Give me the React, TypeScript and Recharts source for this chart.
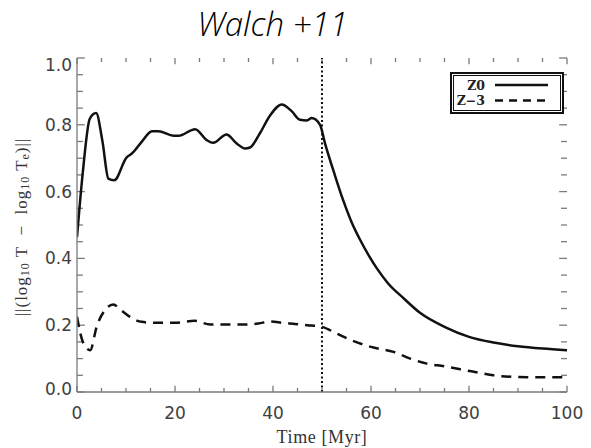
import React from 'react';
import { LineChart, Line, XAxis, YAxis, ReferenceLine } from 'recharts';

const z0Time = [0, 1.2, 2.6, 3.9, 5.2, 6.4, 7.6, 10.1, 11.2, 13.2, 15.3, 16.6, 19.7, 20.7, 24.1, 26.5, 27.8, 30.5, 32.6, 34.3, 35.3, 37.3, 39.4, 41.8, 43.8, 45.5, 46.9, 47.9, 49.6, 50.6, 52.5, 54.3, 56, 57.8, 59.5, 61.2, 63.5, 66.7, 70, 75, 80, 85, 90, 95, 100];
const z0Values = [0.464, 0.66, 0.818, 0.835, 0.75, 0.639, 0.634, 0.702, 0.714, 0.749, 0.781, 0.781, 0.767, 0.767, 0.787, 0.754, 0.746, 0.771, 0.744, 0.729, 0.732, 0.774, 0.828, 0.861, 0.841, 0.815, 0.813, 0.82, 0.80, 0.745, 0.655, 0.575, 0.51, 0.455, 0.41, 0.37, 0.325, 0.28, 0.237, 0.195, 0.165, 0.148, 0.137, 0.130, 0.125];

const z3Time = [0, 1.2, 2.7, 4, 5.7, 7.4, 9, 10.8, 13.2, 16, 20, 24, 27.2, 30, 34, 37, 39.4, 42, 44.2, 47, 50, 53, 56, 60, 64.6, 68, 71.4, 75, 78.2, 82, 85, 90, 95, 100];
const z3Values = [0.225, 0.15, 0.125, 0.195, 0.245, 0.262, 0.245, 0.225, 0.21, 0.207, 0.207, 0.213, 0.202, 0.202, 0.202, 0.205, 0.211, 0.207, 0.204, 0.2, 0.195, 0.175, 0.155, 0.135, 0.12, 0.1, 0.085, 0.077, 0.068, 0.058, 0.05, 0.045, 0.044, 0.044];

const seriesNames = ['Z0', 'Z\u22123'];
const seriesDash = ['', '8 6'];

const xTicks = [0, 5, 10, 15, 20, 25, 30, 35, 40, 45, 50, 55, 60, 65, 70, 75, 80, 85, 90, 95, 100];
const yTicks = [0, 0.05, 0.1, 0.15, 0.2, 0.25, 0.3, 0.35, 0.4, 0.45, 0.5, 0.55, 0.6, 0.65, 0.7, 0.75, 0.8, 0.85, 0.9, 0.95, 1.0];
const xLabelEvery = 20;
const yLabelEvery = 0.2;
const markerTime = 50;
const xMin = 0;
const xMax = 100;
const yMin = 0;
const yMax = 1;

const titleText = 'Walch +11';
const xAxisTitle = 'Time [Myr]';

const z0Data = z0Time.map((t, i) => ({ t, v: z0Values[i] }));
const z3Data = z3Time.map((t, i) => ({ t, v: z3Values[i] }));

const FRAME = '#7a7a7a';
const TICKTXT = '#404040';

// tick mark lengths expressed in data units (x: 4.9 px/unit, y: 334 px/unit)
const xTickLenMajor = 0.019;
const xTickLenMinor = 0.012;
const yTickLenMajor = 1.6;
const yTickLenMinor = 1.2;

const isMajor = (v: number, step: number) => Math.abs(v / step - Math.round(v / step)) < 1e-6;

const BottomTick = (props: any) => {
  const { x, y, payload } = props;
  if (!isMajor(payload.value, xLabelEvery)) return <g />;
  return (
    <text x={x} y={y + 21} textAnchor="middle" dominantBaseline="central" fontFamily="DejaVu Sans" fontSize={17} fill={TICKTXT}>
      {payload.value}
    </text>
  );
};

const LeftTick = (props: any) => {
  const { x, y, payload } = props;
  const v = payload.value as number;
  if (!isMajor(v, yLabelEvery)) return <g />;
  const shift = v >= 0.999 ? 7 : v <= 0.001 ? -3 : 0;
  return (
    <text x={x - 5} y={y + shift} textAnchor="end" dominantBaseline="central" fontFamily="DejaVu Sans" fontSize={17} fill={TICKTXT}>
      {v.toFixed(1)}
    </text>
  );
};

const YTitle = () => (
  <text
    x={21}
    y={227}
    transform="rotate(-90, 21, 227)"
    textAnchor="middle"
    dominantBaseline="central"
    fontFamily="Liberation Serif"
    fontSize={17}
    letterSpacing={1}
    fill="#333"
    style={{ whiteSpace: 'pre' }}
  >
    <tspan>{'||(log'}</tspan>
    <tspan fontSize={12} dy={4}>10</tspan>
    <tspan dy={-4}>{' T  \u2212  log'}</tspan>
    <tspan fontSize={12} dy={4}>10</tspan>
    <tspan dy={-4}>{' T'}</tspan>
    <tspan fontSize={12} dy={4}>e</tspan>
    <tspan dy={-4}>{')||'}</tspan>
  </text>
);

const XTitle = (props: any) => {
  const vb = props.viewBox || {};
  const cx = (vb.x ?? 77) + (vb.width ?? 490) / 2;
  return (
    <text x={cx} y={437} textAnchor="middle" dominantBaseline="central" fontFamily="Liberation Serif" fontSize={18} letterSpacing={0.6} fill="#333">
      {xAxisTitle}
    </text>
  );
};

const LegendBox = () => (
  <div
    style={{
      position: 'absolute',
      left: 450,
      top: 72,
      width: 114,
      height: 42,
      boxSizing: 'border-box',
      border: '2px solid #111',
      padding: 1,
      background: '#fff',
    }}
  >
    <div style={{ border: '1px solid #111', width: '100%', height: '100%', boxSizing: 'border-box' }}>
      <svg width={106} height={34} style={{ display: 'block' }}>
        {seriesNames.map((n, i) => (
          <g key={n}>
            <text x={31} y={9 + i * 15.5} textAnchor="end" dominantBaseline="central" fontFamily="DejaVu Serif" fontWeight="bold" fontSize={12.5} fill="#222">
              {n}
            </text>
            <line x1={41} x2={94} y1={9 + i * 15.5} y2={9 + i * 15.5} stroke="#111" strokeWidth={2.5} strokeDasharray={seriesDash[i] || undefined} />
          </g>
        ))}
      </svg>
    </div>
  </div>
);

export default function App() {
  const tickMarks: React.ReactNode[] = [];
  xTicks.forEach((t) => {
    const len = isMajor(t, xLabelEvery) ? xTickLenMajor : xTickLenMinor;
    tickMarks.push(
      <ReferenceLine key={'xb' + t} segment={[{ x: t, y: yMin }, { x: t, y: yMin + len }]} stroke={FRAME} strokeWidth={1.3} ifOverflow="visible" />,
      <ReferenceLine key={'xt' + t} segment={[{ x: t, y: yMax }, { x: t, y: yMax - len }]} stroke={FRAME} strokeWidth={1.3} ifOverflow="visible" />
    );
  });
  yTicks.forEach((v) => {
    const len = isMajor(v, yLabelEvery) ? yTickLenMajor : yTickLenMinor;
    tickMarks.push(
      <ReferenceLine key={'yl' + v} segment={[{ x: xMin, y: v }, { x: xMin + len, y: v }]} stroke={FRAME} strokeWidth={1.3} ifOverflow="visible" />,
      <ReferenceLine key={'yr' + v} segment={[{ x: xMax, y: v }, { x: xMax - len, y: v }]} stroke={FRAME} strokeWidth={1.3} ifOverflow="visible" />
    );
  });

  return (
    <div style={{ position: 'absolute', left: 0, top: 0, width: 591, height: 448, background: '#fff' }}>
      <div
        style={{
          position: 'absolute',
          left: 0,
          width: 545,
          top: 4,
          textAlign: 'center',
          fontFamily: "'Open Sans', sans-serif",
          fontStyle: 'italic',
          fontWeight: 300,
          fontSize: 33,
          color: '#000',
          lineHeight: '40px',
        }}
      >
        {titleText}
      </div>
      <LineChart width={591} height={448} margin={{ top: 58, right: 24, bottom: 0, left: 0 }}>
        <XAxis
          dataKey="t"
          type="number"
          domain={[xMin, xMax]}
          ticks={xTicks}
          interval={0}
          height={56}
          tickSize={0}
          tickMargin={0}
          tickLine={false}
          axisLine={{ stroke: FRAME, strokeWidth: 1.3 }}
          tick={<BottomTick />}
          label={<XTitle />}
          allowDataOverflow
        />
        <XAxis
          xAxisId="top"
          orientation="top"
          dataKey="t"
          type="number"
          domain={[xMin, xMax]}
          ticks={xTicks}
          interval={0}
          height={0}
          tickSize={0}
          tickMargin={0}
          tickLine={false}
          tick={false}
          axisLine={{ stroke: FRAME, strokeWidth: 1.3 }}
          allowDataOverflow
        />
        <YAxis
          type="number"
          domain={[yMin, yMax]}
          ticks={yTicks}
          interval={0}
          width={77}
          tickSize={0}
          tickMargin={0}
          tickLine={false}
          axisLine={{ stroke: FRAME, strokeWidth: 1.3 }}
          tick={<LeftTick />}
          label={<YTitle />}
          allowDataOverflow
        />
        <YAxis
          yAxisId="right"
          orientation="right"
          type="number"
          domain={[yMin, yMax]}
          ticks={yTicks}
          interval={0}
          width={0}
          tickSize={0}
          tickMargin={0}
          tickLine={false}
          tick={false}
          axisLine={{ stroke: FRAME, strokeWidth: 1.3 }}
          allowDataOverflow
        />
        {tickMarks}
        <ReferenceLine x={markerTime} stroke="#111" strokeWidth={2} strokeDasharray="2 2.5" />
        <Line
          data={z0Data}
          dataKey="v"
          name={seriesNames[0]}
          type="monotone"
          stroke="#111"
          strokeWidth={2.5}
          dot={false}
          isAnimationActive={false}
        />
        <Line
          data={z3Data}
          dataKey="v"
          name={seriesNames[1]}
          type="monotone"
          stroke="#111"
          strokeWidth={2.5}
          strokeDasharray="10 7"
          dot={false}
          isAnimationActive={false}
        />
      </LineChart>
      <LegendBox />
    </div>
  );
}
